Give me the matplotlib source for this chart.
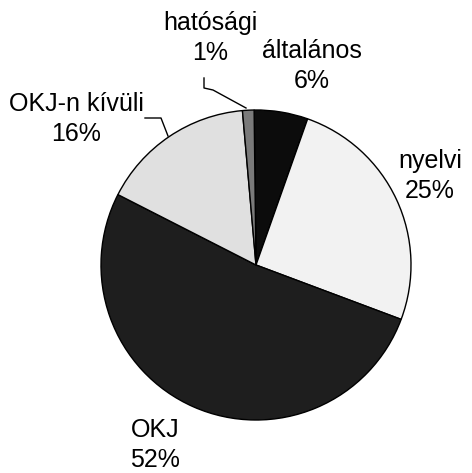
import matplotlib.pyplot as plt

W, H = 472, 473

categories = ["általános", "nyelvi", "OKJ", "OKJ-n kívüli", "hatósági"]
shares = [5.6, 25.3, 51.8, 16.1, 1.2]
colors = ["#0c0c0c", "#f2f2f2", "#1e1e1e", "#e0e0e0", "#7a7a7a"]

plt.rcParams["font.family"] = ["Liberation Sans", "DejaVu Sans"]

fig = plt.figure(figsize=(W / 100, H / 100), dpi=100)
ax = fig.add_axes([0, 0, 1, 1])

cx, cy, r = 256, H - 265, 155
ax.pie(shares, colors=colors, startangle=90.7, counterclock=False,
       center=(cx, cy), radius=r, frame=True,
       wedgeprops=dict(edgecolor="black", linewidth=1.0))
ax.set_xlim(0, W)
ax.set_ylim(0, H)
ax.set_aspect("equal")
ax.axis("off")

# label positions (pixel coords, y from top)
label_pos = {
    "általános": (312, 66),
    "nyelvi": (430, 176),
    "OKJ": (155, 445),
    "OKJ-n kívüli": (76, 119),
    "hatósági": (210, 38),
}
for name, val in zip(categories, shares):
    x, y = label_pos[name]
    ax.text(x, H - y, f"{name}\n{round(val)}%", ha="center", va="center",
            fontsize=18, linespacing=1.36)

# leader lines
ax.plot([204, 204, 213, 246], [H - 78, H - 88, H - 90, H - 108], color="black", lw=1)
ax.plot([145, 161, 168], [H - 118, H - 118, H - 136], color="black", lw=1)

fig.savefig("out.png", dpi=100)
